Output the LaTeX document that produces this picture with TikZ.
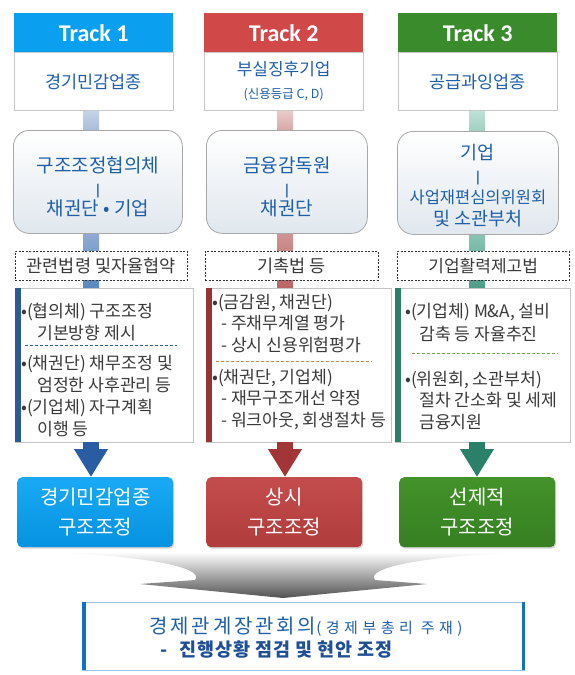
\documentclass[tikz,border=0pt]{standalone}
\usepackage{fontspec}
\setmainfont{Noto Sans CJK KR}
\newfontfamily\trkfont{Carlito}
\usetikzlibrary{arrows.meta,backgrounds,calc,shadows}
\definecolor{tone1}{HTML}{0A9FEF}
\definecolor{tone2}{HTML}{D04848}
\definecolor{tone3}{HTML}{3A8B2B}
\definecolor{kblue}{HTML}{1F5FA8}
\definecolor{txt}{HTML}{3A3A3A}
\definecolor{hline}{HTML}{C8C8C8}
\definecolor{rline}{HTML}{A8A8A8}
\definecolor{rbot}{HTML}{E0E7EE}
\definecolor{cline}{HTML}{C4C4C4}
\definecolor{ua1}{HTML}{C4D3E8}\definecolor{ub1}{HTML}{A9BEDC}
\definecolor{la1}{HTML}{8FAAD2}\definecolor{lb1}{HTML}{5B86C0}
\definecolor{ua2}{HTML}{EBCACA}\definecolor{ub2}{HTML}{D8A8A8}
\definecolor{la2}{HTML}{D09494}\definecolor{lb2}{HTML}{B86464}
\definecolor{ua3}{HTML}{BEE2D8}\definecolor{ub3}{HTML}{A0D0C0}
\definecolor{la3}{HTML}{88C4B4}\definecolor{lb3}{HTML}{4E9C88}
\definecolor{side1}{HTML}{2B5A94}\definecolor{side2}{HTML}{963434}\definecolor{side3}{HTML}{2B7E66}
\definecolor{ar1}{HTML}{2A5CA4}\definecolor{ar2}{HTML}{A23636}\definecolor{ar3}{HTML}{2A8068}
\definecolor{sep1}{HTML}{2B5A94}\definecolor{sep2}{HTML}{D08A4A}\definecolor{sep3}{HTML}{6EAA50}
\definecolor{bxa1}{HTML}{1AAAF5}\definecolor{bxb1}{HTML}{0592E0}
\definecolor{bxa2}{HTML}{C44C4C}\definecolor{bxb2}{HTML}{B03C3C}
\definecolor{bxa3}{HTML}{43922A}\definecolor{bxb3}{HTML}{367F22}
\definecolor{bbside}{HTML}{1370C4}\definecolor{bbline}{HTML}{9DC3E6}
\definecolor{bbtxt}{HTML}{1F5FA8}\definecolor{bbtxtb}{HTML}{1F4F96}
\newcommand\barsz{\bfseries\fontsize{12}{21}\selectfont}
\begin{document}
\begin{tikzpicture}[x=1pt,y=-1pt,
 hdr/.style={anchor=north west, minimum width=159pt, minimum height=39pt, inner sep=0pt, text=white, font=\trkfont\bfseries\fontsize{24}{24}\selectfont},
 hwhite/.style={anchor=north, minimum width=159pt, minimum height=58pt, inner sep=0pt, draw=hline, fill=white, text=kblue, align=center, font=\fontsize{17.5}{23}\selectfont},
 rbox/.style={anchor=north west, rounded corners=16pt, draw=rline, line width=0.8pt, top color=white, bottom color=rbot, minimum height=103pt, inner sep=0pt},
 rtext/.style={inner sep=0pt, align=center, text=kblue, font=\fontsize{19}{21.5}\selectfont},
 dbox/.style={anchor=north west, draw=black!80, dash pattern=on 2pt off 1.5pt, fill=white, minimum height=29pt, inner sep=0pt, text=txt, font=\fontsize{17.5}{17.5}\selectfont},
 cbox/.style={anchor=north west, draw=cline, fill=white, minimum height=154pt, inner sep=0pt},
 ctext/.style={anchor=north west, inner sep=0pt, align=left, text=txt, font=\fontsize{17.2}{21.5}\selectfont},
 bbox/.style={anchor=north west, rounded corners=5pt, minimum width=156pt, minimum height=70pt, inner sep=0pt, align=center, text=white, font=\fontsize{20}{30}\selectfont, drop shadow={opacity=0.35, shadow xshift=1pt, shadow yshift=-1.5pt}},
 sepline/.style={line width=0.8pt, dash pattern=on 3pt off 2pt},
 bigarrow/.style={line width=16pt, -{Triangle[width=32pt,length=28pt]}},
]
\useasboundingbox (0,0) rectangle (575,675);
\coordinate (col1) at (91,0);
\coordinate (col2) at (285,0);
\coordinate (col3) at (477,0);
% headers
\node[hdr, fill=tone1] (h1) at (14,13) {Track 1};
\node[hdr, fill=tone2] (h2) at (204,13) {Track 2};
\node[hdr, fill=tone3] (h3) at (398,13) {Track 3};
\node[hwhite] (w1) at (h1.south) {경기민감업종};
\node[hwhite, font=\fontsize{17}{23}\selectfont] (w2) at (h2.south) {부실징후기업\\{\fontsize{12.5}{12.5}\selectfont(신용등급 C, D)}};
\node[hwhite] (w3) at (h3.south) {공급과잉업종};
% rounded boxes
\node[rbox, minimum width=169pt] (r1) at (13,130) {};
\node[rbox, minimum width=161pt] (r2) at (206,130) {};
\node[rbox, minimum width=161pt] (r3) at (397,131) {};
\node[rtext] (rt1) at ($(r1.center)+(0,5)$) {구조조정협의체\\{\barsz|}\\채권단 • 기업};
\node[rtext] (rt2) at ($(r2.center)+(0,5)$) {금융감독원\\{\barsz|}\\채권단};
\node[rtext, font=\fontsize{18.5}{22}\selectfont] (rt3) at ($(r3.center)+(0,3)$) {기업\\{\bfseries\fontsize{12}{22}\selectfont|}\\{\fontsize{16.5}{22}\selectfont 사업재편심의위원회}\\및 소관부처};
% dashed boxes
\node[dbox, minimum width=172pt] (d1) at (15,251) {관련법령 및자율협약};
\node[dbox, minimum width=173pt] (d2) at (205,251) {기촉법 등};
\node[dbox, minimum width=172pt, font=\fontsize{17}{17}\selectfont] (d3) at (397,251) {기업활력제고법};
% content boxes
\node[cbox, minimum width=178pt] (c1) at (15,288) {};
\node[cbox, minimum width=185pt] (c2) at (206,288) {};
\node[cbox, minimum width=175pt] (c3) at (395,288) {};
% bottom coloured boxes
\node[bbox, top color=bxa1, bottom color=bxb1] (b1) at (17,477) {경기민감업종\\구조조정};
\node[bbox, top color=bxa2, bottom color=bxb2] (b2) at (206,477) {상시\\구조조정};
\node[bbox, top color=bxa3, bottom color=bxb3] (b3) at (399,477) {선제적\\구조조정};
% connector bars
\begin{pgfonlayer}{background}
\fill[white] (0,0) rectangle (575,675);
\shade[top color=ua1, bottom color=ub1] ($(w1.south -| col1)+(-8,0)$) rectangle ($(r1.north -| col1)+(8,0)$);
\shade[top color=la1, bottom color=lb1] ($(r1.south -| col1)+(-8,0)$) rectangle ($(c1.north -| col1)+(8,0)$);
\shade[top color=ua2, bottom color=ub2] ($(w2.south -| col2)+(-8,0)$) rectangle ($(r2.north -| col2)+(8,0)$);
\shade[top color=la2, bottom color=lb2] ($(r2.south -| col2)+(-8,0)$) rectangle ($(c2.north -| col2)+(8,0)$);
\shade[top color=ua3, bottom color=ub3] ($(w3.south -| col3)+(-8,0)$) rectangle ($(r3.north -| col3)+(8,0)$);
\shade[top color=la3, bottom color=lb3] ($(r3.south -| col3)+(-8,0)$) rectangle ($(c3.north -| col3)+(8,0)$);
\end{pgfonlayer}
% side bars of content boxes
\fill[side1] (c1.north west) rectangle ($(c1.south west)+(6,0)$);
\fill[side2] (c2.north west) rectangle ($(c2.south west)+(6,0)$);
\fill[side3] (c3.north west) rectangle ($(c3.south west)+(6,0)$);
% content texts
\node[ctext] (p1a) at (21,303) {•(협의체) 구조조정\\\hspace*{16pt}기본방향 제시};
\draw[sepline, sep1] (25,345) -- (177,345);
\node[ctext, font=\fontsize{17.2}{22}\selectfont] (p1b) at (21,355) {•(채권단) 채무조정 및\\\hspace*{16pt}엄정한 사후관리 등\\•(기업체) 자구계획\\\hspace*{16pt}이행 등};
\node[ctext] (p2a) at (212,294) {•(금감원, 채권단)\\\hspace*{9pt}- 주채무계열 평가\\\hspace*{9pt}- 상시 신용위험평가};
\draw[sepline, sep2] (216,361) -- (372,361);
\node[ctext] (p2b) at (212,369) {•(채권단, 기업체)\\\hspace*{9pt}- 재무구조개선 약정\\\hspace*{9pt}- 워크아웃, 회생절차 등};
\node[ctext, font=\fontsize{17.2}{23}\selectfont] (p3a) at (405,303) {•(기업체) M\&A, 설비\\\hspace*{14pt}감축 등 자율추진};
\draw[sepline, sep3] (412,353) -- (558,353);
\node[ctext] (p3b) at (405,371) {•(위원회, 소관부처)\\\hspace*{14pt}절차 간소화 및 세제\\\hspace*{14pt}금융지원};
% down arrows
\draw[bigarrow, ar1] (c1.south -| col1) -- (b1.north -| col1);
\draw[bigarrow, ar2] (c2.south -| col2) -- (b2.north -| col2);
\draw[bigarrow, ar3] (c3.south -| col3) -- (b3.north -| col3);
% big grey chevron
\shade[top color=white, middle color=black!22, bottom color=black!68]
 (45,552) .. controls (150,556) and (205,568) .. (195,580) -- (140,584) -- (283,598) -- (427,584) -- (375,580) .. controls (365,568) and (420,556) .. (530,552) -- cycle;
% bottom summary box
\node[anchor=north west, fill=white, minimum width=443pt, minimum height=68pt, inner sep=0pt] (bb) at (82,602) {};
\draw[bbline, line width=0.8pt] (bb.north west) -- (bb.north east);
\draw[bbline, line width=0.8pt] (bb.south west) -- (bb.south east);
\fill[bbside] (bb.north west) rectangle ($(bb.south west)+(3.5,0)$);
\fill[bbside] (bb.north east) rectangle ($(bb.south east)+(-3.5,0)$);
\node[text=bbtxt, font=\fontsize{20}{20}\selectfont\addfontfeature{LetterSpace=14}, inner sep=0pt] (bt1) at (306,627) {경제관계장관회의{\fontsize{15}{15}\selectfont\addfontfeature{LetterSpace=30}(경제부총리 주재)}};
\node[anchor=west, text=bbtxtb, font=\bfseries\fontsize{18.5}{18.5}\selectfont\addfontfeature{LetterSpace=5}, inner sep=0pt] (bt2) at (160,650) {-\hspace{12pt}진행상황 점검 및 현안 조정};
\end{tikzpicture}
\end{document}
